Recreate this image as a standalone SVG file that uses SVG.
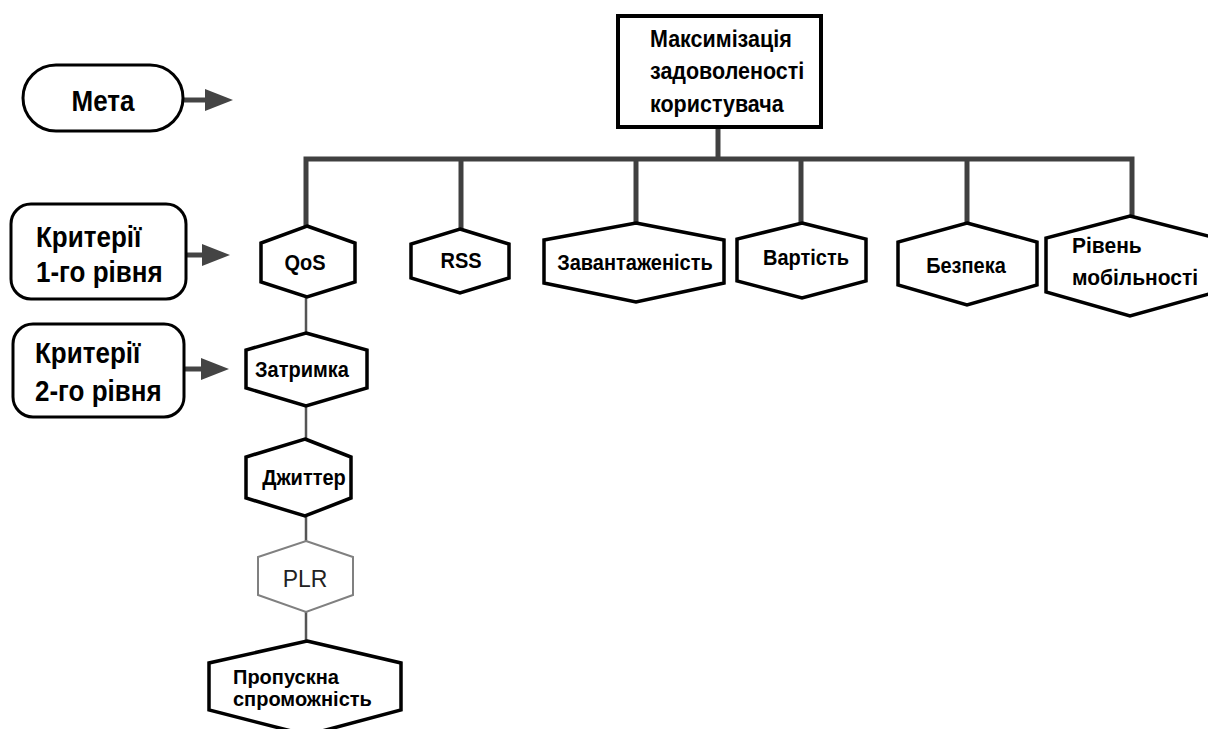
<svg xmlns="http://www.w3.org/2000/svg" width="1208" height="729" viewBox="0 0 1208 729">
<style>
text{font-family:"Liberation Sans",Arial,sans-serif;font-weight:bold;fill:#000}
.hex{fill:#fff;stroke:#000;stroke-width:3.5;stroke-linejoin:miter}
.hexg{fill:#fff;stroke:#808080;stroke-width:2}
.rb{fill:#fff;stroke:#000;stroke-width:3}
.bus{fill:none;stroke:#404040;stroke-width:5;stroke-linejoin:miter}
.chain{fill:none;stroke:#555;stroke-width:2.5}
.arr{stroke:#444;stroke-width:5}
.lbl{font-size:20px}
.big{font-size:26px}
.top{font-size:21.5px}
.m{text-anchor:middle}
</style>
<defs>
<marker id="ah" markerWidth="28" markerHeight="22" refX="1" refY="11" orient="auto" markerUnits="userSpaceOnUse">
<path d="M0,0 L28,11 L0,22 z" fill="#444"/>
</marker>
</defs>
<rect width="1208" height="729" fill="#fff"/>
<g id="connectors">
<path class="bus" d="M718,129 V159"/>
<path class="bus" d="M306,227 V159 H1132 V217"/>
<path class="bus" d="M461,159 V230"/>
<path class="bus" d="M636,159 V224"/>
<path class="bus" d="M801,159 V224"/>
<path class="bus" d="M967,159 V224"/>
<path class="chain" d="M306,298 V333 M306,406 V439 M306,516 V541 M306,612 V641"/>
<line class="arr" x1="184" y1="100" x2="206" y2="100" marker-end="url(#ah)"/>
<line class="arr" x1="187" y1="255" x2="203" y2="255" marker-end="url(#ah)"/>
<line class="arr" x1="185" y1="369" x2="202" y2="369" marker-end="url(#ah)"/>
</g>
<g id="goal-label">
<rect class="rb" x="23" y="65" width="160" height="66" rx="33"/>
<text class="big m" transform="translate(103,111) scale(1,1.17)">Мета</text>
</g>
<g id="level1-label">
<rect class="rb" x="11" y="204" width="175" height="95" rx="20"/>
<text class="big" transform="translate(36,247) scale(1,1.15)">Критерії</text>
<text class="big" transform="translate(36,282) scale(1,1.15)">1-го рівня</text>
</g>
<g id="level2-label">
<rect class="rb" x="13" y="324" width="171" height="93" rx="20"/>
<text class="big" transform="translate(35,363) scale(1,1.15)">Критерії</text>
<text class="big" transform="translate(35,401) scale(1,1.15)">2-го рівня</text>
</g>
<g id="goal">
<rect x="618" y="16" width="203" height="111" fill="#fff" stroke="#000" stroke-width="4"/>
<text class="top" transform="translate(650,47) scale(1,1.12)">Максимізація</text>
<text class="top" transform="translate(650,79) scale(1,1.12)">задоволеності</text>
<text class="top" transform="translate(650,112) scale(1,1.12)">користувача</text>
</g>
<g id="qos">
<polygon class="hex" points="307,226 355,243 355,282 307,297 261,282 261,243"/>
<text class="lbl m" transform="translate(305,270) scale(1,1.08)">QoS</text>
</g>
<g id="rss">
<polygon class="hex" points="460,229 509,244 509,278 460,293 411,278 411,244"/>
<text class="lbl m" transform="translate(461,268) scale(1,1.08)">RSS</text>
</g>
<g id="load">
<polygon class="hex" points="636,223 724,240 724,283 636,302 544,283 544,240"/>
<text class="lbl m" transform="translate(635,270) scale(1,1.08)">Завантаженість</text>
</g>
<g id="cost">
<polygon class="hex" points="802,223 866,239 866,281 802,298 737,281 737,239"/>
<text class="lbl m" transform="translate(806,265) scale(1,1.08)">Вартість</text>
</g>
<g id="security">
<polygon class="hex" points="967,223 1037,242 1037,285 967,305 898,285 898,242"/>
<text class="lbl m" transform="translate(966,273) scale(1,1.08)">Безпека</text>
</g>
<g id="mobility">
<polygon class="hex" points="1130,216 1216,238 1216,292 1130,316 1046,292 1046,238"/>
<text class="lbl" style="font-size:21px" transform="translate(1072,253) scale(1,1.08)">Рівень</text>
<text class="lbl" style="font-size:21px" transform="translate(1072,285) scale(1,1.08)">мобільності</text>
</g>
<g id="delay">
<polygon class="hex" points="306,333 367,350 367,388 306,406 246,388 246,350"/>
<text class="lbl m" transform="translate(302,377) scale(1,1.08)">Затримка</text>
</g>
<g id="jitter">
<polygon class="hex" points="305,439 351,457 351,498 305,516 246,498 246,457"/>
<text class="lbl m" transform="translate(304,485) scale(1,1.08)">Джиттер</text>
</g>
<g id="plr">
<polygon class="hexg" points="306,541 353,557 353,595 306,612 258,595 258,557"/>
<text class="m" style="font-weight:normal;font-size:23px;fill:#222" transform="translate(305,587) scale(1,1.08)">PLR</text>
</g>
<g id="bandwidth">
<polygon class="hex" points="307,641 401,663 401,710 307,735 209,710 209,663"/>
<text class="lbl" x="233" y="684">Пропускна</text>
<text class="lbl" x="233" y="706">спроможність</text>
</g>
</svg>
